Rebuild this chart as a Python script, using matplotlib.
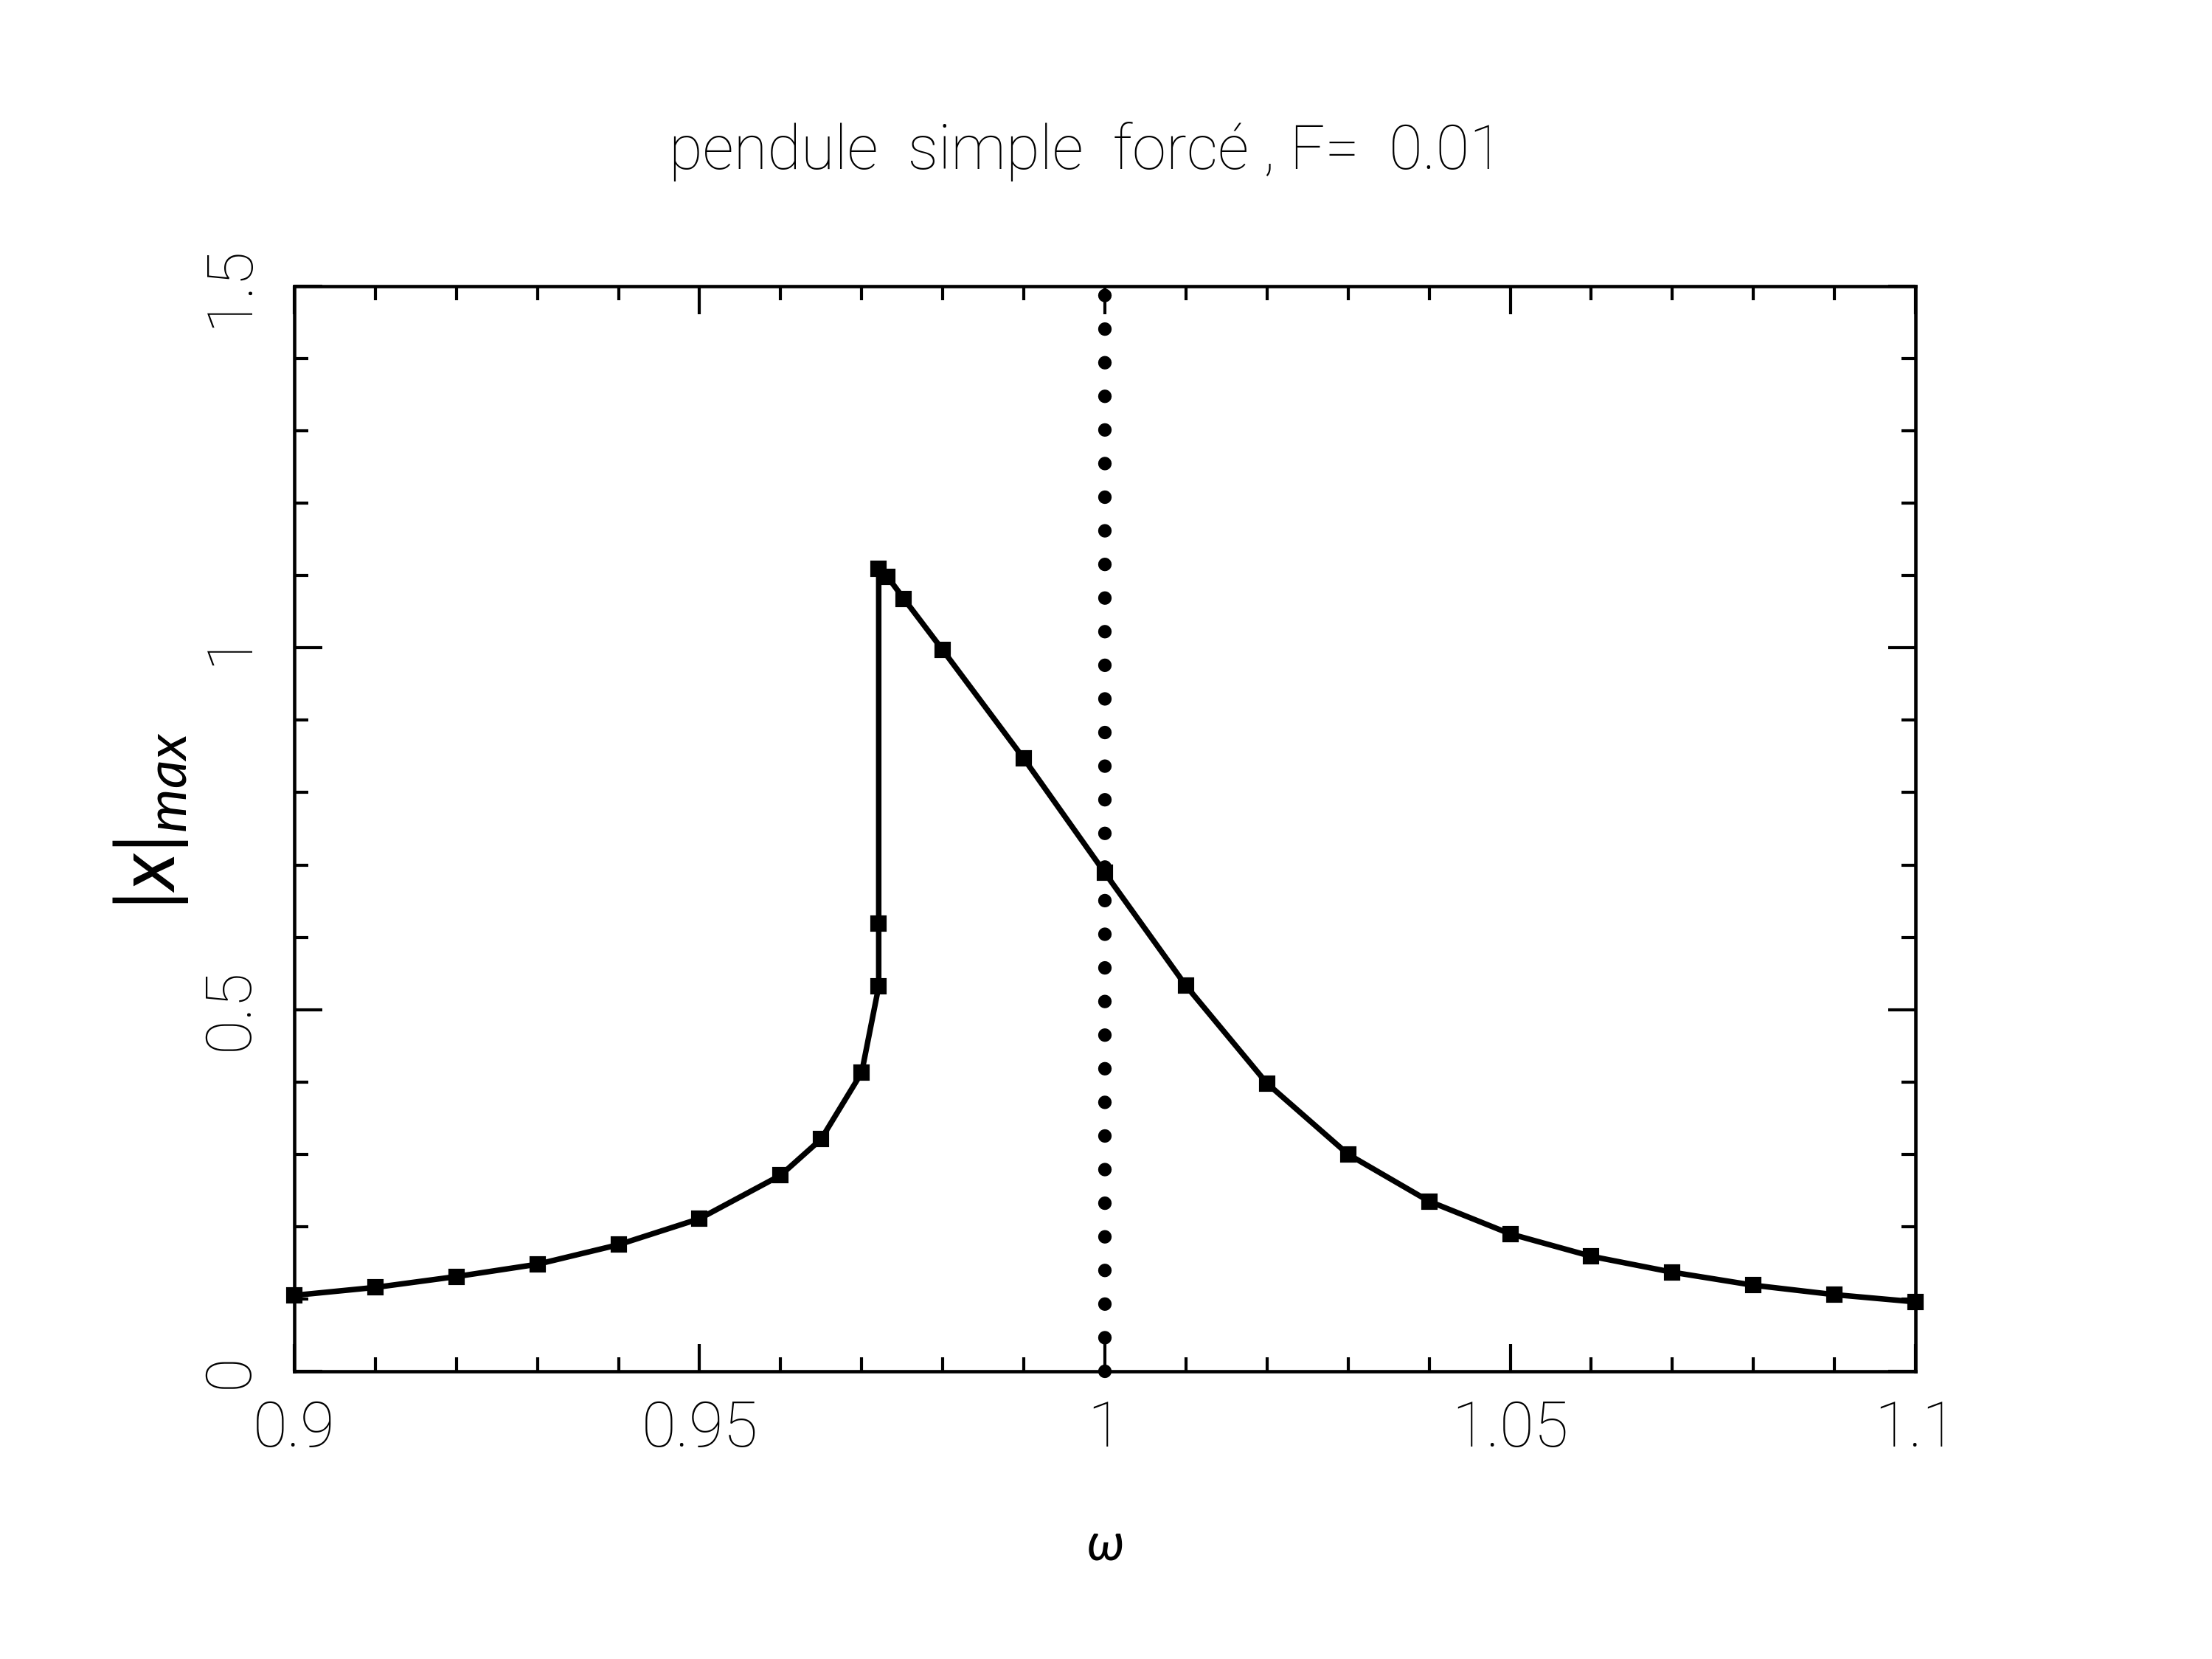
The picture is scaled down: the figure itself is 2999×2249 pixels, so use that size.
import matplotlib
matplotlib.use('Agg')
import matplotlib.pyplot as plt
from matplotlib.ticker import MultipleLocator, FixedFormatter, FixedLocator

omega = [0.900, 0.910, 0.920, 0.930, 0.940, 0.950, 0.960, 0.965, 0.970,
         0.9721, 0.9721, 0.9721, 0.9732, 0.9752, 0.980, 0.990, 1.000,
         1.010, 1.020, 1.030, 1.040, 1.050, 1.060, 1.070, 1.080, 1.090, 1.100]
xmax = [0.105, 0.116, 0.131, 0.148, 0.175, 0.211, 0.271, 0.321, 0.413,
        0.532, 0.619, 1.109, 1.098, 1.068, 0.997, 0.847, 0.689,
        0.533, 0.398, 0.300, 0.235, 0.190, 0.159, 0.137, 0.119, 0.106, 0.096]
omega0 = 1.0

x_ticks = [0.9, 0.95, 1.0, 1.05, 1.1]
x_labels = ['0.9', '0.95', '1', '1.05', '1.1']
y_ticks = [0, 0.5, 1.0, 1.5]
y_labels = ['0', '0.5', '1', '1.5']

thin = dict(family=['Roboto', 'DejaVu Sans'], weight='light')

plt.rcParams['mathtext.fontset'] = 'custom'
plt.rcParams['mathtext.it'] = 'Lato:italic'
plt.rcParams['mathtext.rm'] = 'Lato'

fig = plt.figure(figsize=(2999 / 300, 2249 / 300), dpi=300)
ax = fig.add_axes([0.133, 0.1734, 0.733, 0.6541])

# resonance line at omega = 1
ax.plot([omega0, omega0], [y_ticks[0], y_ticks[-1]], color='k', lw=4.4,
        linestyle=(0, (0.001, 2.485)), dash_capstyle='round', clip_on=False)

ax.plot(omega, xmax, color='k', lw=1.8, marker='s', markersize=4.4,
        clip_on=False, zorder=3)

ax.set_xlim(0.9, 1.1)
ax.set_ylim(0, 1.5)

ax.xaxis.set_major_locator(FixedLocator(x_ticks))
ax.xaxis.set_major_formatter(FixedFormatter(x_labels))
ax.xaxis.set_minor_locator(MultipleLocator(0.01))
ax.yaxis.set_major_locator(FixedLocator(y_ticks))
ax.yaxis.set_major_formatter(FixedFormatter(y_labels))
ax.yaxis.set_minor_locator(MultipleLocator(0.1))

ax.tick_params(which='both', direction='in', top=True, right=True, width=1.0)
ax.tick_params(which='major', length=9)
ax.tick_params(which='minor', length=4.6)
ax.tick_params(axis='x', which='major', labelsize=20.5, pad=9)
ax.tick_params(axis='y', which='major', labelsize=20.5, pad=11)
for lab in ax.get_xticklabels():
    lab.update(thin)
for lab in ax.get_yticklabels():
    lab.update(thin)
    lab.set_rotation(90)
    lab.set_va('center')

for sp in ax.spines.values():
    sp.set_linewidth(1.1)

fig.text(0.491, 0.9088, 'pendule  simple  forcé , F=  0.01', ha='center', va='center',
         fontsize=20, **thin)
fig.text(0.4995, 0.0685, r'$\omega$', ha='center', va='center', fontsize=17)
fig.text(0.069, 0.505, r'$\mathit{|x|}_{\mathit{max}}$', ha='center', va='center',
         rotation=90, fontsize=26)

plt.savefig('out.png', dpi=300)
